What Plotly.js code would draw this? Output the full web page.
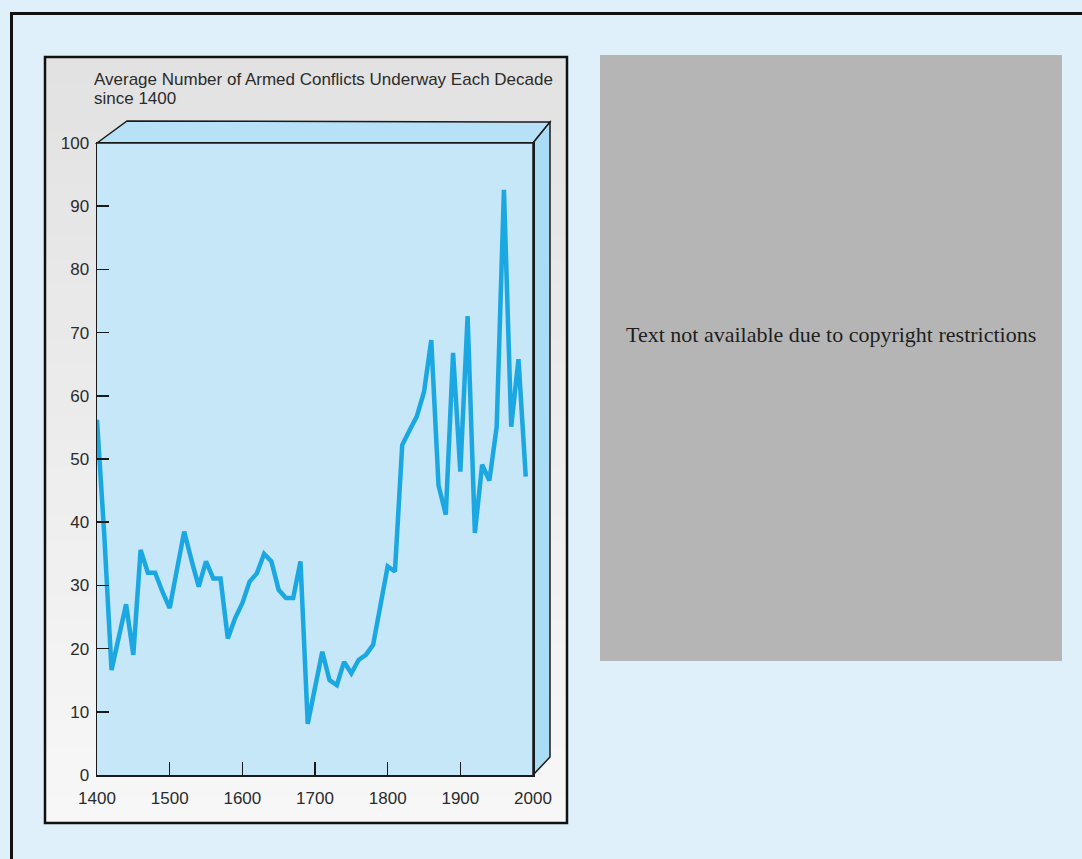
<!DOCTYPE html>
<html><head><meta charset="utf-8">
<script src="https://cdn.plot.ly/plotly-3.0.1.min.js"></script>
<style>html,body{margin:0;padding:0;background:#e0f0fb;overflow:hidden}#chart{width:1082px;height:859px}</style>
</head><body><div id="chart"></div>
<script>
// ---- data ----
const decades = [1400,1410,1420,1430,1440,1450,1460,1470,1480,1490,
                 1500,1510,1520,1530,1540,1550,1560,1570,1580,1590,
                 1600,1610,1620,1630,1640,1650,1660,1670,1680,1690,
                 1700,1710,1720,1730,1740,1750,1760,1770,1780,1790,
                 1800,1810,1820,1830,1840,1850,1860,1870,1880,1890,
                 1900,1910,1920,1930,1940,1950,1960,1970,1980,1990];
const conflicts = [56.2,38,16.6,22,27,19,35.6,32,32,29,
                   26.4,32.5,38.5,34,29.8,33.8,31.1,31.1,21.6,24.8,
                   27.2,30.6,31.9,35,33.8,29.3,28,28,33.8,8.1,
                   13.5,19.5,15.0,14.2,17.9,16.1,18.2,19.0,20.6,27.2,
                   33.0,32.2,52.2,54.5,56.7,60.6,68.8,45.8,41.2,66.8,
                   48.0,72.6,38.3,49.1,46.6,55.1,92.6,55.1,65.8,47.2];
const xTickVals = [1400,1500,1600,1700,1800,1900,2000];
const yTickVals = [0,10,20,30,40,50,60,70,80,90,100];
const titleLines = ["Average Number of Armed Conflicts Underway Each Decade", "since 1400"];
const noticeText = "Text not available due to copyright restrictions";

// ---- layout geometry ----
const W = 1082, H = 859;
const M = {l: 97, r: 549, t: 143, b: 84};
const pw = W - M.l - M.r, ph = H - M.t - M.b;
const X = px => (px - M.l) / pw;
const Y = py => (H - M.b - py) / ph;
const P = pts => 'M' + pts.map(p => X(p[0]).toFixed(5) + ',' + Y(p[1]).toFixed(5)).join(' L') + ' Z';

const FONT = '"Liberation Sans", Arial, sans-serif';
const shapes = [];

// panel gradient
const bands = 30, pTop = 57, pBot = 823;
for (let i = 0; i < bands; i++) {
  const t = i / (bands - 1);
  const c = Math.round(226 + t * (247 - 226));
  shapes.push({type: 'rect', xref: 'paper', yref: 'paper', layer: 'below',
    x0: X(45), x1: X(567), y0: Y(pTop + i * (pBot - pTop) / bands), y1: Y(pTop + (i + 1) * (pBot - pTop) / bands + 0.5),
    fillcolor: `rgb(${c},${c},${c})`, line: {width: 0}});
}
// panel border
shapes.push({type: 'rect', xref: 'paper', yref: 'paper', layer: 'below',
  x0: X(45), x1: X(567), y0: Y(57), y1: Y(823), line: {color: '#111', width: 2.5}});
// outer frame
shapes.push({type: 'rect', xref: 'paper', yref: 'paper', layer: 'below',
  x0: X(11.5), x1: X(1095), y0: Y(13.5), y1: Y(875), line: {color: '#111', width: 3}});
// front face
shapes.push({type: 'rect', xref: 'paper', yref: 'paper', layer: 'below',
  x0: X(97), x1: X(533), y0: Y(143), y1: Y(775), fillcolor: '#c6e7f8', line: {width: 0}});
// top face
shapes.push({type: 'path', xref: 'paper', yref: 'paper', layer: 'below',
  path: P([[97,143],[127,121],[550,122],[533,143]]), fillcolor: '#b6e1f7', line: {color: '#1a1a1a', width: 1.5}});
// right face
shapes.push({type: 'path', xref: 'paper', yref: 'paper', layer: 'below',
  path: P([[533,143],[550,122],[550,757],[533,775]]), fillcolor: '#abdcf5', line: {color: '#1a1a1a', width: 1.5}});
// gray notice box
shapes.push({type: 'rect', xref: 'paper', yref: 'paper', layer: 'below',
  x0: X(600), x1: X(1062), y0: Y(55), y1: Y(661), fillcolor: '#b5b5b5', line: {width: 0}});

const annotations = [
  {xref: 'paper', yref: 'paper', x: X(92), y: Y(80), xanchor: 'left', yanchor: 'middle', showarrow: false,
   text: titleLines[0], font: {family: FONT, size: 17, color: '#2b2b2b'}},
  {xref: 'paper', yref: 'paper', x: X(92), y: Y(98), xanchor: 'left', yanchor: 'middle', showarrow: false,
   text: titleLines[1], font: {family: FONT, size: 17, color: '#2b2b2b'}},
  {xref: 'paper', yref: 'paper', x: X(831), y: Y(334), xanchor: 'center', yanchor: 'middle', showarrow: false,
   text: noticeText, font: {family: '"Liberation Serif", "DejaVu Serif", serif', size: 22, color: '#1e1e1e'}}
];

const axisCommon = {showgrid: false, zeroline: false, showline: true, mirror: true,
  linecolor: '#1a1a1a', linewidth: 1.5, ticks: 'inside', tickcolor: '#1a1a1a', tickwidth: 1.5,
  tickfont: {family: FONT, size: 17, color: '#2b2b2b'}, fixedrange: true};

const layout = {
  width: W, height: H, margin: M,
  paper_bgcolor: '#e0f0fb', plot_bgcolor: 'rgba(0,0,0,0)',
  showlegend: false,
  xaxis: Object.assign({}, axisCommon, {range: [1400, 2000], tickvals: xTickVals, ticklen: 13, ticklabelstandoff: 7}),
  yaxis: Object.assign({}, axisCommon, {range: [0, 100], tickvals: yTickVals, ticklen: 12, ticklabelstandoff: 3}),
  shapes: shapes, annotations: annotations
};

const trace = {x: decades, y: conflicts, type: 'scatter', mode: 'lines',
  line: {color: '#1ba7e1', width: 4.5}, hoverinfo: 'x+y'};

Plotly.newPlot('chart', [trace], layout, {displayModeBar: false, staticPlot: true});
</script></body></html>
